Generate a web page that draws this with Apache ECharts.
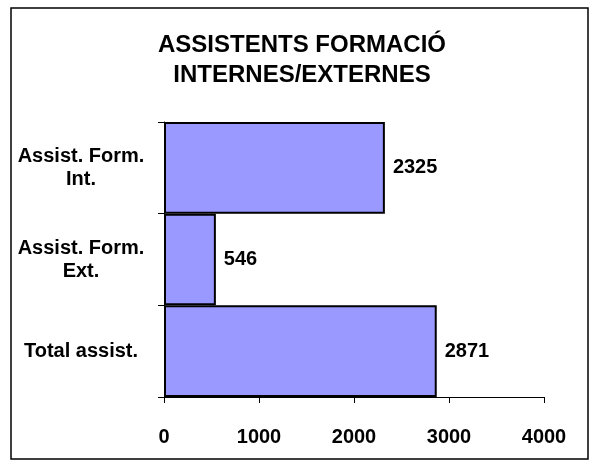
<!DOCTYPE html>
<html>
<head>
<meta charset="utf-8">
<script src="https://cdn.jsdelivr.net/npm/echarts@6/dist/echarts.min.js"></script>
<style>
  html, body { margin: 0; padding: 0; background: #fff; }
  #main { width: 592px; height: 464px; }
</style>
</head>
<body>
<div id="main"></div>
<script>
var categories = ['Assist. Form.\nInt.', 'Assist. Form.\nExt.', 'Total assist.']
var values = [2325, 546, 2871]
var xTicks = [0, 1000, 2000, 3000, 4000]

var font = 'Liberation Sans, Arial, sans-serif'

var option = {
  backgroundColor: '#fff',
  animation: false,
  title: {
    text: 'ASSISTENTS FORMACIÓ\nINTERNES/EXTERNES',
    left: 297,
    top: 25,
    textAlign: 'center',
    textStyle: {
      fontFamily: font,
      fontWeight: 'bold',
      fontSize: 24,
      lineHeight: 30,
      color: '#000'
    }
  },
  graphic: [{ // marc exterior
    type: 'rect',
    shape: { x: 11, y: 8, width: 577, height: 451 },
    style: { fill: 'none', stroke: '#000', lineWidth: 1.5 },
    silent: true
  }],
  grid: {
    left: 164,
    right: 48,
    top: 122,
    bottom: 67,
    containLabel: false
  },
  xAxis: {
    type: 'value',
    min: xTicks[0],
    max: xTicks[xTicks.length - 1],
    interval: 1000,
    splitLine: { show: false },
    axisLine: { show: true, lineStyle: { color: '#000', width: 1 } },
    axisTick: { show: true, length: 6, lineStyle: { color: '#000' } },
    axisLabel: {
      margin: 30,
      color: '#000',
      fontFamily: font,
      fontWeight: 'bold',
      fontSize: 20,
      formatter: function (v) { return String(v) }
    }
  },
  yAxis: {
    type: 'category',
    inverse: true,
    data: categories,
    axisLine: { show: true, lineStyle: { color: '#000', width: 1 } },
    axisTick: { show: true, length: 6, lineStyle: { color: '#000' } },
    axisLabel: {
      margin: 83,
      align: 'center',
      color: '#000',
      fontFamily: font,
      fontWeight: 'bold',
      fontSize: 20,
      lineHeight: 23
    }
  },
  series: [{
    type: 'bar',
    data: values,
    barCategoryGap: '0%',
    itemStyle: {
      color: '#9999FF',
      borderColor: '#000',
      borderWidth: 2
    },
    label: {
      show: true,
      position: 'right',
      distance: 8,
      color: '#000',
      fontFamily: font,
      fontWeight: 'bold',
      fontSize: 20
    }
  }]
}

var myChart = echarts.init(document.getElementById('main'))
myChart.setOption(option)
</script>
</body>
</html>
